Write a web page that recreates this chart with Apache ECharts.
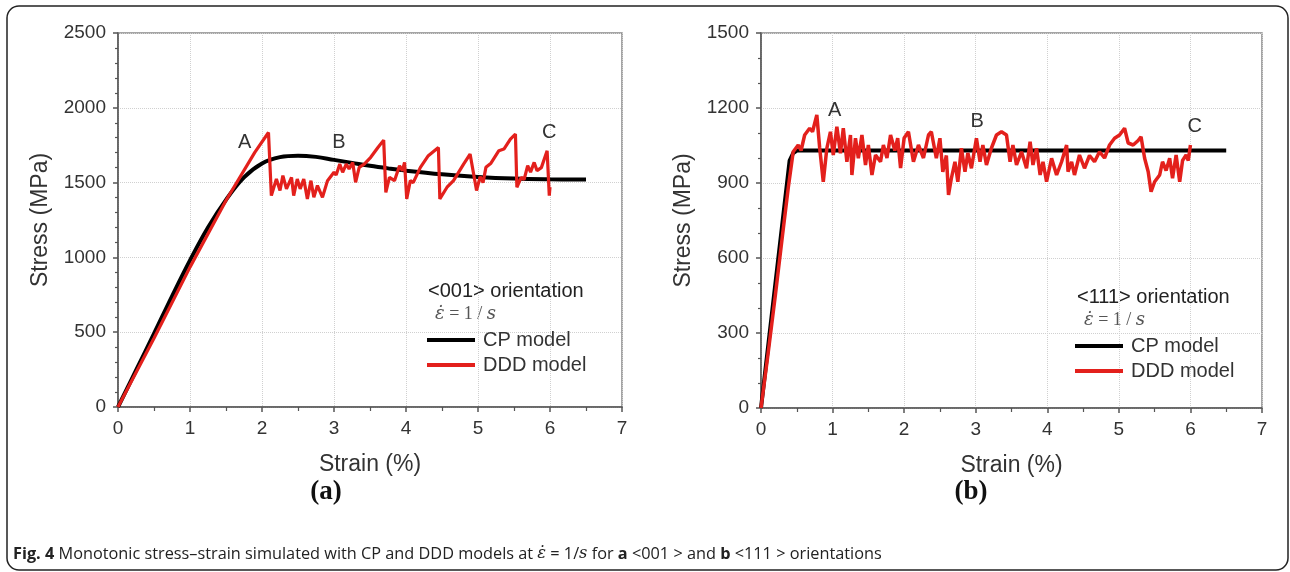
<!DOCTYPE html>
<html>
<head>
<meta charset="utf-8">
<script src="https://cdn.jsdelivr.net/npm/echarts@6/dist/echarts.min.js"></script>
<style>
  html, body { margin: 0; padding: 0; background: #fff; }
  #chart { width: 1290px; height: 572px; }
</style>
</head>
<body>
<div id="chart"></div>
<script>
// (a) <001> orientation
const cpAStrain = [0, 0.25, 0.5, 0.75, 1.0, 1.25, 1.5, 1.75, 2.0, 2.25, 2.5, 2.75, 3.0, 3.25, 3.5, 3.75, 4.0, 4.5, 5.0, 5.5, 6.0, 6.5]
const cpAStress = [0, 245, 490, 740, 980, 1200, 1385, 1535, 1628, 1670, 1680, 1672, 1652, 1632, 1612, 1595, 1580, 1556, 1538, 1527, 1522, 1520]

const dddAStrain = [0, 0.5, 1.0, 1.5, 1.9, 2.09, 2.13, 2.20, 2.25, 2.29, 2.34, 2.41, 2.44, 2.49, 2.53, 2.58, 2.63, 2.68, 2.72, 2.77, 2.84, 2.91, 3.0, 3.03, 3.08, 3.12, 3.17, 3.21, 3.26, 3.30, 3.35, 3.42, 3.51, 3.61, 3.69, 3.72, 3.77, 3.84, 3.91, 3.95, 3.98, 4.01, 4.06, 4.10, 4.2, 4.31, 4.45, 4.47, 4.57, 4.66, 4.80, 4.89, 4.98, 5.03, 5.07, 5.11, 5.18, 5.29, 5.36, 5.45, 5.52, 5.54, 5.60, 5.64, 5.69, 5.73, 5.78, 5.82, 5.88, 5.96, 5.99, 6.0]
const dddAStress = [0, 460, 935, 1380, 1702, 1835, 1413, 1524, 1447, 1547, 1458, 1535, 1413, 1524, 1458, 1524, 1391, 1513, 1402, 1480, 1402, 1513, 1569, 1550, 1624, 1569, 1624, 1591, 1635, 1502, 1602, 1624, 1669, 1735, 1784, 1435, 1535, 1513, 1613, 1580, 1635, 1391, 1513, 1500, 1602, 1680, 1735, 1391, 1469, 1513, 1624, 1691, 1447, 1540, 1500, 1602, 1630, 1713, 1724, 1791, 1824, 1469, 1535, 1520, 1613, 1570, 1635, 1580, 1600, 1713, 1413, 1469]

// (b) <111> orientation
const cpBStrain = [0, 0.4, 0.45, 0.5, 6.5]
const cpBStress = [0, 990, 1020, 1030, 1030]

const dddBStrain = [0, 0.1, 0.2, 0.3, 0.38, 0.45, 0.52, 0.56, 0.61, 0.68, 0.72, 0.78, 0.82, 0.87, 0.92, 0.97, 1.01, 1.06, 1.11, 1.15, 1.20, 1.25, 1.27, 1.32, 1.36, 1.41, 1.46, 1.50, 1.55, 1.60, 1.67, 1.71, 1.76, 1.81, 1.87, 1.91, 1.95, 2.0, 2.06, 2.13, 2.20, 2.27, 2.34, 2.38, 2.45, 2.50, 2.54, 2.59, 2.62, 2.66, 2.71, 2.75, 2.80, 2.85, 2.89, 2.94, 3.01, 3.06, 3.10, 3.15, 3.22, 3.29, 3.36, 3.43, 3.48, 3.52, 3.57, 3.64, 3.71, 3.76, 3.80, 3.85, 3.90, 3.94, 3.99, 4.06, 4.13, 4.20, 4.27, 4.29, 4.34, 4.38, 4.45, 4.52, 4.59, 4.66, 4.73, 4.80, 4.87, 4.94, 5.01, 5.08, 5.13, 5.20, 5.27, 5.31, 5.36, 5.41, 5.45, 5.50, 5.57, 5.61, 5.66, 5.71, 5.75, 5.80, 5.85, 5.89, 5.94, 5.97, 6.0]
const dddBStress = [0, 220, 450, 690, 879, 1025, 1052, 1030, 1092, 1119, 1105, 1172, 1040, 905, 1039, 1105, 1012, 1125, 1019, 1119, 985, 1092, 932, 1079, 999, 1092, 972, 1052, 932, 1012, 985, 1052, 1000, 1092, 1030, 1079, 960, 1080, 1105, 985, 1052, 1000, 1092, 1105, 999, 1079, 945, 1010, 852, 919, 985, 905, 1039, 945, 1020, 959, 1079, 985, 1052, 972, 1040, 1092, 1105, 1092, 985, 1052, 972, 1025, 959, 1065, 972, 1039, 932, 985, 905, 999, 932, 985, 1052, 945, 985, 932, 1012, 959, 1010, 985, 1025, 1000, 1052, 1079, 1092, 1119, 1060, 1052, 1070, 1085, 999, 945, 865, 905, 932, 985, 950, 999, 919, 1012, 905, 990, 1012, 990, 1052]

// point labels A, B, C
const markA = [['A', 1.76, 1767], ['B', 3.07, 1767], ['C', 5.99, 1833]]
const markB = [['A', 1.03, 1192], ['B', 3.02, 1145], ['C', 6.06, 1125]]

const xTicks = [0, 7, 1]
const yTicksA = [0, 2500, 500]
const yTicksB = [0, 1500, 300]

const font = 'Liberation Sans, Arial, sans-serif'
const red = '#e3201c'

const zip = (a, b) => a.map((v, i) => [v, b[i]])

const xAxisCfg = (gridIndex) => ({
  gridIndex,
  type: 'value',
  min: xTicks[0], max: xTicks[1], interval: xTicks[2],
  name: 'Strain (%)',
  nameLocation: 'middle',
  nameGap: 46,
  nameTextStyle: { fontFamily: font, fontSize: 23, color: '#333' },
  axisLine: { show: true, lineStyle: { color: '#555', width: 1.5 } },
  axisTick: { show: true, length: 5, lineStyle: { color: '#555', width: 1.5 } },
  minorTick: { show: true, splitNumber: 2, length: 4, lineStyle: { color: '#555', width: 1.2 } },
  axisLabel: { fontFamily: font, fontSize: 19, color: '#333', margin: 12, formatter: v => String(v) },
  splitLine: { show: true, lineStyle: { color: '#d0d0d0', type: 'dotted', width: 1 } }
})

const yAxisCfg = (gridIndex, ticks, minorSplit) => ({
  gridIndex,
  type: 'value',
  min: ticks[0], max: ticks[1], interval: ticks[2],
  name: 'Stress (MPa)',
  nameLocation: 'middle',
  nameGap: 66,
  nameTextStyle: { fontFamily: font, fontSize: 23, color: '#333' },
  axisLine: { show: true, lineStyle: { color: '#555', width: 1.5 } },
  axisTick: { show: true, length: 5, lineStyle: { color: '#555', width: 1.5 } },
  minorTick: { show: true, splitNumber: minorSplit, length: 3, lineStyle: { color: '#555', width: 1.2 } },
  axisLabel: { fontFamily: font, fontSize: 19, color: '#333', margin: 12, formatter: v => String(v) },
  splitLine: { show: true, lineStyle: { color: '#d0d0d0', type: 'dotted', width: 1 } }
})

const marks = list => ({
  symbol: 'circle',
  symbolSize: 0,
  silent: true,
  label: { show: true, formatter: p => p.name, fontFamily: font, fontSize: 20, color: '#333' },
  data: list.map(m => ({ name: m[0], coord: [m[1], m[2]] }))
})

const lineSeries = (name, idx, data, color, width, mp, smooth) => ({
  name,
  type: 'line',
  xAxisIndex: idx,
  yAxisIndex: idx,
  data,
  color,
  smooth: smooth || false,
  showSymbol: false,
  symbol: 'none',
  lineStyle: { color, width },
  z: name === 'CP model' ? 2 : 3,
  markPoint: mp
})

const legendCfg = (left, top) => ({
  left, top,
  orient: 'vertical',
  icon: 'rect',
  itemWidth: 48,
  itemHeight: 4,
  itemGap: 5,
  selectedMode: false,
  data: ['CP model', 'DDD model'],
  textStyle: { fontFamily: font, fontSize: 20, color: '#333', padding: [0, 0, 0, 3] }
})

const legendText = (x, y, label) => [
  { type: 'text', left: x, top: y, style: { text: label, font: '20px ' + font, fill: '#222' } },
  {
    type: 'text', left: x + 7, top: y + 24,
    style: {
      text: '{i|\u03B5\u0307} = 1 / {i|s}',
      font: '18px Liberation Serif, serif',
      fill: '#555',
      rich: { i: { font: 'italic 18px DejaVu Serif, serif', fill: '#555' } }
    }
  }
]

const chart = echarts.init(document.getElementById('chart'))
chart.setOption({
  animation: false,
  backgroundColor: '#fff',
  grid: [
    { left: 118, top: 33, width: 504, height: 374, show: true, borderColor: '#888', borderWidth: 1.5, outerBoundsMode: 'none' },
    { left: 761, top: 33, width: 501, height: 375, show: true, borderColor: '#888', borderWidth: 1.5, outerBoundsMode: 'none' }
  ],
  xAxis: [xAxisCfg(0), xAxisCfg(1)],
  yAxis: [yAxisCfg(0, yTicksA, 5), yAxisCfg(1, yTicksB, 3)],
  legend: [legendCfg(422, 325), legendCfg(1070, 331)],
  series: [
    lineSeries('CP model', 0, zip(cpAStrain, cpAStress), '#000', 4, marks(markA), 0.4),
    lineSeries('DDD model', 0, zip(dddAStrain, dddAStress), red, 3.2),
    lineSeries('CP model', 1, zip(cpBStrain, cpBStress), '#000', 4, marks(markB)),
    lineSeries('DDD model', 1, zip(dddBStrain, dddBStress), red, 3.5)
  ],
  graphic: [
    { type: 'rect', shape: { x: 7, y: 6, width: 1281, height: 564, r: 12 }, style: { fill: 'none', stroke: '#222', lineWidth: 1.5 }, z: -1 },
    ...legendText(428, 281, '<001> orientation'),
    ...legendText(1077, 287, '<111> orientation'),
    { type: 'text', x: 326, y: 492, style: { text: '(a)', font: 'bold 27px Liberation Serif, serif', fill: '#111', align: 'center', verticalAlign: 'middle' } },
    { type: 'text', x: 971, y: 492, style: { text: '(b)', font: 'bold 27px Liberation Serif, serif', fill: '#111', align: 'center', verticalAlign: 'middle' } },
    {
      type: 'text', left: 13, top: 546,
      style: {
        text: '{b|Fig. 4} Monotonic stress\u2013strain simulated with CP and DDD models at {i|\u03B5\u0307} = 1/{i|s} for {b|a} <001 > and {b|b} <111 > orientations',
        font: '16.3px Open Sans, sans-serif',
        fill: '#222',
        rich: {
          b: { font: 'bold 16.3px Open Sans, sans-serif', fill: '#222' },
          i: { font: 'italic 16.3px DejaVu Serif, serif', fill: '#222' }
        }
      }
    }
  ]
})
</script>
</body>
</html>
